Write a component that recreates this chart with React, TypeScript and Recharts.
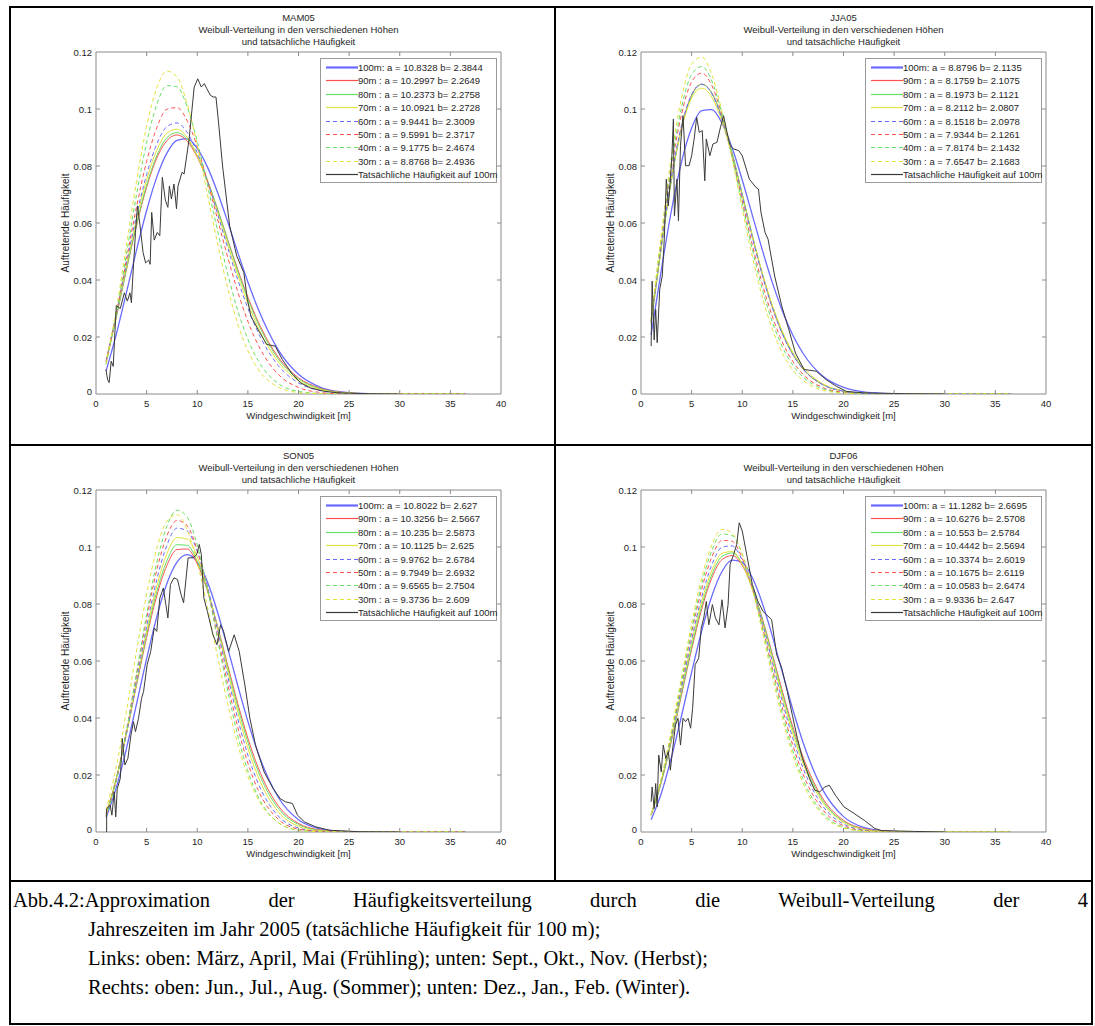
import React from 'react'
import { LineChart, Line, XAxis, YAxis, ReferenceArea } from 'recharts'

// wind speed grid used for the fitted Weibull curves
const windGrid = [1, 2, 3, 4, 5, 6, 7, 8, 9, 10, 11, 12, 13, 14, 15, 16, 18, 20, 22, 24, 27, 36.5]
const xTicks = [0, 5, 10, 15, 20, 25, 30, 35, 40]
const yTicks = [0, 0.02, 0.04, 0.06, 0.08, 0.1, 0.12]
const yTickLabels = ['0', '0.02', '0.04', '0.06', '0.08', '0.1', '0.12']
const heights = ['100m', '90m', '80m', '70m', '60m', '50m', '40m', '30m']

// MAM05
const mam100 = [0.0081, 0.0209, 0.0355, 0.0505, 0.0644, 0.0761, 0.0845, 0.0890, 0.0896, 0.0862, 0.0797, 0.0708, 0.0605, 0.0497, 0.0393, 0.0300, 0.0155, 0.0069, 0.0026, 0.0008, 0.0001, 0]
const mam90 = [0.0115, 0.0270, 0.0435, 0.0591, 0.0726, 0.0827, 0.0889, 0.0909, 0.0888, 0.0831, 0.0749, 0.0649, 0.0542, 0.0437, 0.0340, 0.0255, 0.0129, 0.0057, 0.0022, 0.0007, 0.0001, 0]
const mam80 = [0.0114, 0.0270, 0.0437, 0.0596, 0.0733, 0.0836, 0.0899, 0.0917, 0.0895, 0.0836, 0.0750, 0.0648, 0.0539, 0.0431, 0.0333, 0.0248, 0.0123, 0.0053, 0.0020, 0.0006, 0.0001, 0]
const mam70 = [0.0118, 0.0280, 0.0451, 0.0614, 0.0752, 0.0855, 0.0915, 0.0929, 0.0901, 0.0836, 0.0745, 0.0638, 0.0525, 0.0417, 0.0318, 0.0234, 0.0113, 0.0047, 0.0017, 0.0005, 0.0001, 0]
const mam60 = [0.0116, 0.0280, 0.0457, 0.0626, 0.0770, 0.0877, 0.0938, 0.0951, 0.0918, 0.0846, 0.0748, 0.0633, 0.0514, 0.0401, 0.0301, 0.0217, 0.0100, 0.0039, 0.0013, 0.0004, 0, 0]
const mam50 = [0.0111, 0.0281, 0.0470, 0.0656, 0.0816, 0.0934, 0.0999, 0.1005, 0.0959, 0.0868, 0.0748, 0.0614, 0.0481, 0.0359, 0.0255, 0.0173, 0.0069, 0.0023, 0.0006, 0.0001, 0, 0]
const mam40 = [0.0104, 0.0281, 0.0489, 0.0699, 0.0882, 0.1015, 0.1082, 0.1078, 0.1008, 0.0886, 0.0734, 0.0574, 0.0423, 0.0293, 0.0192, 0.0118, 0.0037, 0.0009, 0.0002, 0, 0, 0]
const mam30 = [0.0107, 0.0296, 0.0520, 0.0745, 0.0939, 0.1074, 0.1133, 0.1112, 0.1019, 0.0874, 0.0702, 0.0529, 0.0373, 0.0246, 0.0152, 0.0088, 0.0024, 0.0005, 0.0001, 0, 0, 0]
const mamActualX = [0.98, 1.15, 1.3, 1.5, 1.7, 2.0, 2.4, 2.8, 3.1, 3.35, 3.5, 3.6, 3.9, 4.1, 4.35, 4.65, 4.9, 5.2, 5.35, 5.5, 5.75, 6.05, 6.3, 6.55, 6.85, 7.1, 7.25, 7.45, 7.7, 7.95, 8.1, 8.5, 8.7, 9.2, 9.55, 9.7, 10.05, 10.4, 10.7, 10.95, 11.3, 11.6, 11.85, 12.1, 12.5, 13.2, 13.9, 14.6, 14.95, 15.3, 16.0, 16.85, 17.7, 18.4, 19.3, 20.2, 21.2, 22.6, 24, 27, 30]
const mamActualY = [0.0086, 0.005, 0.004, 0.0115, 0.0097, 0.031, 0.030, 0.0355, 0.0326, 0.0355, 0.032, 0.039, 0.0567, 0.066, 0.059, 0.0496, 0.046, 0.047, 0.0455, 0.0637, 0.054, 0.0567, 0.0555, 0.076, 0.068, 0.0655, 0.073, 0.0684, 0.0737, 0.065, 0.073, 0.0778, 0.0772, 0.0895, 0.1024, 0.1077, 0.1106, 0.1077, 0.1089, 0.1071, 0.1048, 0.1042, 0.1042, 0.0954, 0.080, 0.059, 0.0484, 0.0426, 0.0332, 0.0273, 0.0226, 0.0174, 0.0168, 0.0121, 0.0074, 0.0039, 0.0021, 0.0009, 0.0004, 0.0001, 0]
const mamLabels = ['100m: a = 10.8328 b= 2.3844', '90m : a = 10.2997 b= 2.2649', '80m : a = 10.2373 b= 2.2758', '70m : a = 10.0921 b= 2.2728', '60m : a = 9.9441 b= 2.3009', '50m : a = 9.5991 b= 2.3717', '40m : a = 9.1775 b= 2.4674', '30m : a = 8.8768 b= 2.4936']

// JJA05
const jja100 = [0.0207, 0.0434, 0.0643, 0.0814, 0.0933, 0.0994, 0.0998, 0.0950, 0.0864, 0.0751, 0.0627, 0.0503, 0.0388, 0.0288, 0.0206, 0.0143, 0.0061, 0.0023, 0.0007, 0.0002, 0, 0]
const jja90 = [0.0249, 0.0515, 0.0753, 0.0936, 0.1049, 0.1087, 0.1056, 0.0968, 0.0843, 0.0699, 0.0553, 0.0418, 0.0302, 0.0209, 0.0139, 0.0088, 0.0032, 0.0010, 0.0002, 0.0001, 0, 0]
const jja80 = [0.0246, 0.0510, 0.0748, 0.0931, 0.1046, 0.1086, 0.1056, 0.0970, 0.0846, 0.0702, 0.0556, 0.0421, 0.0305, 0.0211, 0.0140, 0.0089, 0.0032, 0.0010, 0.0002, 0.0001, 0, 0]
const jja70 = [0.0257, 0.0522, 0.0755, 0.0931, 0.1038, 0.1073, 0.1041, 0.0956, 0.0834, 0.0695, 0.0553, 0.0422, 0.0309, 0.0217, 0.0146, 0.0095, 0.0035, 0.0011, 0.0003, 0.0001, 0, 0]
const jja60 = [0.0254, 0.0522, 0.0760, 0.0941, 0.1051, 0.1087, 0.1053, 0.0964, 0.0838, 0.0694, 0.0548, 0.0414, 0.0300, 0.0208, 0.0138, 0.0088, 0.0032, 0.0010, 0.0002, 0.0001, 0, 0]
const jja50 = [0.0257, 0.0538, 0.0790, 0.0981, 0.1095, 0.1126, 0.1082, 0.0978, 0.0836, 0.0678, 0.0522, 0.0384, 0.0269, 0.0179, 0.0114, 0.0069, 0.0022, 0.0006, 0.0001, 0, 0, 0]
const jja40 = [0.0258, 0.0547, 0.0807, 0.1005, 0.1121, 0.1149, 0.1098, 0.0984, 0.0833, 0.0667, 0.0507, 0.0365, 0.0250, 0.0163, 0.0101, 0.0060, 0.0018, 0.0004, 0.0001, 0, 0, 0]
const jja30 = [0.0260, 0.0559, 0.0832, 0.1039, 0.1158, 0.1182, 0.1120, 0.0992, 0.0827, 0.0649, 0.0482, 0.0338, 0.0225, 0.0141, 0.0084, 0.0048, 0.0013, 0.0003, 0, 0, 0, 0]
const jjaActualX = [1.0, 1.1, 1.3, 1.45, 1.6, 1.85, 2.1, 2.3, 2.5, 2.7, 2.9, 3.05, 3.2, 3.3, 3.55, 3.7, 3.9, 4.15, 4.4, 4.75, 5.0, 5.25, 5.5, 5.75, 6.05, 6.3, 6.45, 6.8, 7.1, 7.5, 7.85, 8.15, 8.5, 8.8, 9.15, 9.65, 10.0, 10.7, 11.35, 11.6, 11.85, 12.25, 12.55, 13.2, 13.9, 14.6, 15.25, 16.1, 17.3, 18.3, 19.3, 20.3, 22, 26, 30]
const jjaActualY = [0.0168, 0.0396, 0.019, 0.0297, 0.018, 0.0367, 0.0414, 0.0543, 0.0754, 0.066, 0.0754, 0.0836, 0.0965, 0.0625, 0.0754, 0.0608, 0.0872, 0.0977, 0.0801, 0.0801, 0.0836, 0.0895, 0.0971, 0.0918, 0.0924, 0.0748, 0.0895, 0.0836, 0.0877, 0.0883, 0.0936, 0.0977, 0.0918, 0.0872, 0.086, 0.0854, 0.0836, 0.0754, 0.0725, 0.0719, 0.0637, 0.0567, 0.0543, 0.0414, 0.0309, 0.0226, 0.0144, 0.0086, 0.008, 0.005, 0.0027, 0.0009, 0.0004, 0.0001, 0]
const jjaLabels = ['100m: a = 8.8796 b= 2.1135', '90m : a = 8.1759 b= 2.1075', '80m : a = 8.1973 b= 2.1121', '70m : a = 8.2112 b= 2.0807', '60m : a = 8.1518 b= 2.0978', '50m : a = 7.9344 b= 2.1261', '40m : a = 7.8174 b= 2.1432', '30m : a = 7.6547 b= 2.1683']

// SON05
const son100 = [0.0051, 0.0155, 0.0292, 0.0449, 0.0608, 0.0755, 0.0872, 0.0947, 0.0973, 0.0948, 0.0878, 0.0772, 0.0646, 0.0514, 0.0388, 0.0278, 0.0122, 0.0043, 0.0012, 0.0003, 0, 0]
const son90 = [0.0064, 0.0187, 0.0344, 0.0515, 0.0683, 0.0829, 0.0935, 0.0991, 0.0993, 0.0941, 0.0847, 0.0723, 0.0586, 0.0451, 0.0329, 0.0227, 0.0092, 0.0030, 0.0008, 0.0002, 0, 0]
const son80 = [0.0063, 0.0187, 0.0346, 0.0521, 0.0693, 0.0843, 0.0951, 0.1008, 0.1006, 0.0950, 0.0849, 0.0719, 0.0577, 0.0439, 0.0315, 0.0214, 0.0083, 0.0026, 0.0006, 0.0001, 0, 0]
const son70 = [0.0060, 0.0184, 0.0346, 0.0527, 0.0706, 0.0862, 0.0976, 0.1033, 0.1028, 0.0965, 0.0855, 0.0715, 0.0565, 0.0421, 0.0295, 0.0195, 0.0071, 0.0020, 0.0004, 0.0001, 0, 0]
const son60 = [0.0057, 0.0179, 0.0343, 0.0531, 0.0720, 0.0885, 0.1006, 0.1066, 0.1057, 0.0985, 0.0863, 0.0710, 0.0549, 0.0398, 0.0270, 0.0172, 0.0056, 0.0014, 0.0002, 0, 0, 0]
const son50 = [0.0058, 0.0184, 0.0356, 0.0552, 0.0748, 0.0918, 0.1039, 0.1093, 0.1075, 0.0989, 0.0853, 0.0689, 0.0521, 0.0368, 0.0242, 0.0148, 0.0045, 0.0010, 0.0002, 0, 0, 0]
const son40 = [0.0054, 0.0179, 0.0354, 0.0557, 0.0764, 0.0945, 0.1073, 0.1129, 0.1105, 0.1007, 0.0855, 0.0677, 0.0498, 0.0339, 0.0214, 0.0125, 0.0033, 0.0006, 0.0001, 0, 0, 0]
const son30 = [0.0076, 0.0228, 0.0423, 0.0635, 0.0834, 0.0994, 0.1091, 0.1113, 0.1061, 0.0945, 0.0789, 0.0616, 0.0451, 0.0308, 0.0196, 0.0116, 0.0033, 0.0007, 0.0001, 0, 0, 0]
const sonActualX = [1.05, 1.05, 1.4, 1.57, 1.8, 1.95, 2.1, 2.4, 2.6, 2.85, 3.15, 3.45, 3.7, 3.9, 4.2, 4.5, 4.7, 5.05, 5.4, 5.75, 6.0, 6.3, 6.65, 6.9, 7.1, 7.35, 7.7, 8.05, 8.4, 8.65, 8.9, 9.1, 9.6, 9.95, 10.2, 10.4, 10.65, 11.0, 11.55, 11.95, 12.3, 12.6, 13.1, 13.65, 14.15, 14.7, 15.2, 15.75, 16.6, 17.5, 18.2, 18.7, 19.4, 19.9, 20.6, 21.7, 23.1, 26, 30]
const sonActualY = [0, 0.0082, 0.0094, 0.0059, 0.0141, 0.0053, 0.0152, 0.0188, 0.0328, 0.0235, 0.0258, 0.034, 0.0387, 0.0352, 0.0399, 0.0469, 0.0493, 0.0587, 0.0633, 0.0716, 0.0704, 0.082, 0.0856, 0.0798, 0.0751, 0.0868, 0.0892, 0.0886, 0.0833, 0.0804, 0.0892, 0.0962, 0.0962, 0.0974, 0.1009, 0.0974, 0.0821, 0.0774, 0.0692, 0.0657, 0.0727, 0.0704, 0.0633, 0.0692, 0.0633, 0.0516, 0.0399, 0.0305, 0.0211, 0.0152, 0.0117, 0.0106, 0.01, 0.0059, 0.0035, 0.0018, 0.0006, 0.0001, 0]
const sonLabels = ['100m: a = 10.8022 b= 2.627', '90m : a = 10.3256 b= 2.5667', '80m : a = 10.235 b= 2.5873', '70m : a = 10.1125 b= 2.625', '60m : a = 9.9762 b= 2.6784', '50m : a = 9.7949 b= 2.6932', '40m : a = 9.6565 b= 2.7504', '30m : a = 9.3736 b= 2.609']

// DJF06
const djf100 = [0.0043, 0.0135, 0.0261, 0.0407, 0.0561, 0.0706, 0.0828, 0.0914, 0.0954, 0.0946, 0.0892, 0.0801, 0.0684, 0.0556, 0.0429, 0.0315, 0.0145, 0.0054, 0.0016, 0.0004, 0, 0]
const djf90 = [0.0059, 0.0173, 0.0319, 0.0481, 0.0641, 0.0783, 0.0892, 0.0956, 0.0970, 0.0935, 0.0856, 0.0747, 0.0620, 0.0489, 0.0368, 0.0263, 0.0115, 0.0041, 0.0012, 0.0003, 0, 0]
const djf80 = [0.0059, 0.0175, 0.0323, 0.0487, 0.0650, 0.0794, 0.0903, 0.0967, 0.0979, 0.0940, 0.0857, 0.0743, 0.0613, 0.0480, 0.0358, 0.0253, 0.0108, 0.0037, 0.0010, 0.0002, 0, 0]
const djf70 = [0.0062, 0.0181, 0.0334, 0.0501, 0.0666, 0.0810, 0.0918, 0.0978, 0.0984, 0.0940, 0.0851, 0.0733, 0.0600, 0.0466, 0.0344, 0.0241, 0.0101, 0.0034, 0.0009, 0.0002, 0, 0]
const djf60 = [0.0060, 0.0179, 0.0333, 0.0505, 0.0676, 0.0826, 0.0938, 0.0999, 0.1004, 0.0954, 0.0858, 0.0732, 0.0592, 0.0453, 0.0328, 0.0225, 0.0089, 0.0028, 0.0007, 0.0001, 0, 0]
const djf50 = [0.0061, 0.0184, 0.0345, 0.0523, 0.0700, 0.0853, 0.0965, 0.1023, 0.1020, 0.0960, 0.0854, 0.0718, 0.0571, 0.0429, 0.0304, 0.0203, 0.0076, 0.0022, 0.0005, 0.0001, 0, 0]
const djf40 = [0.0059, 0.0181, 0.0344, 0.0528, 0.0711, 0.0871, 0.0988, 0.1046, 0.1040, 0.0974, 0.0859, 0.0714, 0.0559, 0.0412, 0.0285, 0.0185, 0.0064, 0.0017, 0.0003, 0, 0, 0]
const djf30 = [0.0061, 0.0188, 0.0356, 0.0544, 0.0731, 0.0893, 0.1008, 0.1062, 0.1049, 0.0974, 0.0851, 0.0699, 0.0541, 0.0393, 0.0268, 0.0171, 0.0057, 0.0014, 0.0003, 0, 0, 0]
const djfActualX = [1.0, 1.1, 1.3, 1.45, 1.6, 1.75, 2.0, 2.2, 2.45, 2.7, 2.9, 3.1, 3.4, 3.65, 3.9, 4.15, 4.4, 4.65, 4.9, 5.1, 5.35, 5.7, 5.95, 6.2, 6.45, 6.7, 7.05, 7.35, 7.7, 8.0, 8.3, 8.6, 8.8, 9.15, 9.45, 9.7, 10.0, 10.5, 11.0, 11.55, 12.05, 12.55, 12.9, 13.4, 13.9, 14.45, 14.95, 15.45, 15.95, 16.65, 17.15, 17.65, 18.15, 18.6, 19.2, 20.05, 21.05, 22.05, 23.1, 23.75, 27, 30]
const djfActualY = [0.0106, 0.0158, 0.0082, 0.017, 0.0088, 0.027, 0.0211, 0.0305, 0.0258, 0.0282, 0.0217, 0.0282, 0.0375, 0.0399, 0.0305, 0.0399, 0.0387, 0.0399, 0.0364, 0.0434, 0.0587, 0.061, 0.0716, 0.0751, 0.0809, 0.0727, 0.0798, 0.0751, 0.0727, 0.0815, 0.0716, 0.0798, 0.0939, 0.0974, 0.1009, 0.1085, 0.1056, 0.0962, 0.0868, 0.0809, 0.0774, 0.0757, 0.0745, 0.0622, 0.0575, 0.0493, 0.041, 0.0328, 0.0258, 0.0188, 0.0147, 0.0141, 0.0158, 0.0164, 0.0129, 0.0088, 0.0065, 0.0041, 0.0012, 0.0005, 0.0002, 0]
const djfLabels = ['100m: a = 11.1282 b= 2.6695', '90m : a = 10.6276 b= 2.5708', '80m : a = 10.553 b= 2.5784', '70m : a = 10.4442 b= 2.5694', '60m : a = 10.3374 b= 2.6019', '50m : a = 10.1675 b= 2.6119', '40m : a = 10.0583 b= 2.6474', '30m : a = 9.9336 b= 2.647']

const actualLabel = 'Tatsächliche Häufigkeit auf 100m'

// line styles, same order as heights
const BLUE = '#6a6aff'
const RED = '#ff5050'
const GREEN = '#66e066'
const YELLOW = '#e2e23c'
const ACTUAL = '#3a3a3a'
const styles = [
  { color: BLUE, width: 1.3, dash: undefined },
  { color: RED, width: 1, dash: undefined },
  { color: GREEN, width: 1, dash: undefined },
  { color: YELLOW, width: 1, dash: undefined },
  { color: BLUE, width: 1, dash: '4 3' },
  { color: RED, width: 1, dash: '4 3' },
  { color: GREEN, width: 1, dash: '4 3' },
  { color: YELLOW, width: 1, dash: '4 3' },
]

const AXIS = '#8a8a8a'
const TEXT = '#1e1e1e'
const SANS = '"Liberation Sans", Arial, Helvetica, sans-serif'
const SERIF = '"Liberation Serif", "Times New Roman", serif'

// panel geometry
const PANEL_W = 545
const PANEL_H = 438
const M_LEFT = 85
const M_RIGHT = 55
const M_TOP = 44
const M_BOTTOM = 52
const PLOT_W = PANEL_W - M_LEFT - M_RIGHT
const PLOT_H = PANEL_H - M_TOP - M_BOTTOM

const toPoints = (xs: number[], ys: number[]) => xs.map((x, i) => ({ x, y: ys[i] }))

const XTick = (props: any) => {
  const { x, y, payload } = props
  const v = payload.value
  const inner = v !== 0 && v !== 40
  return (
    <g>
      {inner && <line x1={x} x2={x} y1={y} y2={y - 4} stroke={AXIS} />}
      {inner && <line x1={x} x2={x} y1={y - PLOT_H} y2={y - PLOT_H + 4} stroke={AXIS} />}
      <text x={x} y={y + 9} textAnchor="middle" dominantBaseline="central" fontSize={9.5} fill={TEXT} fontFamily={SANS}>
        {v}
      </text>
    </g>
  )
}

const YTick = (props: any) => {
  const { x, y, payload, index } = props
  const v = payload.value
  const inner = v !== 0 && v !== 0.12
  return (
    <g>
      {inner && <line x1={x} x2={x + 4} y1={y} y2={y} stroke={AXIS} />}
      {inner && <line x1={x + PLOT_W} x2={x + PLOT_W - 4} y1={y} y2={y} stroke={AXIS} />}
      <text x={x - 4} y={v === 0 ? y - 3 : y} textAnchor="end" dominantBaseline="central" fontSize={9.5} fill={TEXT} fontFamily={SANS}>
        {yTickLabels[index] ?? v}
      </text>
    </g>
  )
}

interface PanelProps {
  left: number
  top: number
  title: string
  series: number[][]
  labels: string[]
  actualX: number[]
  actualY: number[]
}

function Panel({ left, top, title, series, labels, actualX, actualY }: PanelProps) {
  const cx = M_LEFT + PLOT_W / 2
  return (
    <div style={{ position: 'absolute', left, top, width: PANEL_W, height: PANEL_H, fontFamily: SANS, color: TEXT }}>
      <div style={{ position: 'absolute', left: cx - 200, width: 400, top: 4, textAlign: 'center', fontSize: 9.5, lineHeight: '12px' }}>
        <div>{title}</div>
        <div>Weibull-Verteilung in den verschiedenen Höhen</div>
        <div>und tatsächliche Häufigkeit</div>
      </div>
      <LineChart width={PANEL_W} height={PANEL_H} margin={{ top: M_TOP, right: M_RIGHT, bottom: M_BOTTOM - 30, left: M_LEFT - 40 }}>
        <XAxis
          type="number"
          dataKey="x"
          domain={[0, 40]}
          ticks={xTicks}
          interval={0}
          tickSize={0}
          tickMargin={0}
          axisLine={false}
          tickLine={false}
          height={30}
          tick={<XTick />}
          allowDataOverflow
        />
        <YAxis
          type="number"
          dataKey="y"
          domain={[0, 0.12]}
          ticks={yTicks}
          interval={0}
          tickSize={0}
          tickMargin={0}
          axisLine={false}
          tickLine={false}
          width={40}
          tick={<YTick />}
          allowDataOverflow
        />
        <ReferenceArea x1={0} x2={40} y1={0} y2={0.12} fill="none" stroke={AXIS} strokeWidth={1} ifOverflow="visible" />
        {series.map((vals, i) => (
          <Line
            key={heights[i]}
            data={toPoints(windGrid, vals)}
            dataKey="y"
            type="monotone"
            dot={false}
            stroke={styles[i].color}
            strokeWidth={styles[i].width}
            strokeDasharray={styles[i].dash}
            isAnimationActive={false}
          />
        ))}
        <Line
          data={toPoints(actualX, actualY)}
          dataKey="y"
          type="linear"
          dot={false}
          stroke={ACTUAL}
          strokeWidth={1}
          isAnimationActive={false}
        />
      </LineChart>
      <div
        style={{
          position: 'absolute',
          left: 54,
          top: M_TOP + PLOT_H / 2,
          transform: 'translate(-50%, -50%) rotate(-90deg)',
          whiteSpace: 'nowrap',
          fontSize: 10,
        }}
      >
        Auftretende Häufigkeit
      </div>
      <div style={{ position: 'absolute', left: cx - 150, width: 300, top: 402, textAlign: 'center', fontSize: 9.5 }}>
        Windgeschwindigkeit [m]
      </div>
      <div
        style={{
          position: 'absolute',
          left: 309,
          top: 50,
          width: 177,
          height: 125,
          boxSizing: 'border-box',
          border: '1px solid #9a9a9a',
          background: '#fff',
        }}
      >
        {[...labels, actualLabel].map((lab, i) => {
          const st = i < styles.length ? styles[i] : { color: ACTUAL, width: 1, dash: undefined }
          return (
            <div key={lab} style={{ position: 'absolute', left: 0, top: 2 + i * 13.4, height: 13, width: 176, fontSize: 9.5, lineHeight: '13px' }}>
              <svg width={34} height={13} style={{ position: 'absolute', left: 4, top: 0 }}>
                <line x1={1} x2={33} y1={6.5} y2={6.5} stroke={st.color} strokeWidth={i === 0 ? 2.2 : 1.2} strokeDasharray={st.dash} />
              </svg>
              <span style={{ position: 'absolute', left: 37, top: 0, whiteSpace: 'nowrap' }}>{lab}</span>
            </div>
          )
        })}
      </div>
    </div>
  )
}

const captionLines = [
  'Abb.4.2:Approximation der Häufigkeitsverteilung durch die Weibull-Verteilung der 4',
  'Jahreszeiten im Jahr 2005 (tatsächliche Häufigkeit für 100 m);',
  'Links: oben: März, April, Mai (Frühling); unten: Sept., Okt., Nov. (Herbst);',
  'Rechts: oben: Jun., Jul., Aug. (Sommer); unten: Dez., Jan., Feb. (Winter).',
]

export default function App() {
  const line = (style: React.CSSProperties) => <div style={{ position: 'absolute', background: '#000', ...style }} />
  return (
    <div style={{ position: 'absolute', left: 0, top: 0, width: 1095, height: 1026, background: '#fff' }}>
      <Panel left={11} top={8} title="MAM05" series={[mam100, mam90, mam80, mam70, mam60, mam50, mam40, mam30]} labels={mamLabels} actualX={mamActualX} actualY={mamActualY} />
      <Panel left={556} top={8} title="JJA05" series={[jja100, jja90, jja80, jja70, jja60, jja50, jja40, jja30]} labels={jjaLabels} actualX={jjaActualX} actualY={jjaActualY} />
      <Panel left={11} top={446} title="SON05" series={[son100, son90, son80, son70, son60, son50, son40, son30]} labels={sonLabels} actualX={sonActualX} actualY={sonActualY} />
      <Panel left={556} top={446} title="DJF06" series={[djf100, djf90, djf80, djf70, djf60, djf50, djf40, djf30]} labels={djfLabels} actualX={djfActualX} actualY={djfActualY} />

      {line({ left: 9, top: 6, width: 1084, height: 2 })}
      {line({ left: 9, top: 1023, width: 1084, height: 2 })}
      {line({ left: 9, top: 6, width: 2, height: 1019 })}
      {line({ left: 1091, top: 6, width: 2, height: 1019 })}
      {line({ left: 9, top: 444, width: 1084, height: 2 })}
      {line({ left: 9, top: 880, width: 1084, height: 2 })}
      {line({ left: 554, top: 6, width: 2, height: 876 })}

      <div style={{ position: 'absolute', left: 13, top: 886, width: 1075, fontFamily: SERIF, fontSize: 20.5, lineHeight: '29px', color: '#000' }}>
        <div style={{ textAlign: 'justify', textAlignLast: 'justify', whiteSpace: 'nowrap' as any }}>{captionLines[0]}</div>
        {captionLines.slice(1).map((t) => (
          <div key={t} style={{ paddingLeft: 75, whiteSpace: 'nowrap' }}>
            {t}
          </div>
        ))}
      </div>
    </div>
  )
}
